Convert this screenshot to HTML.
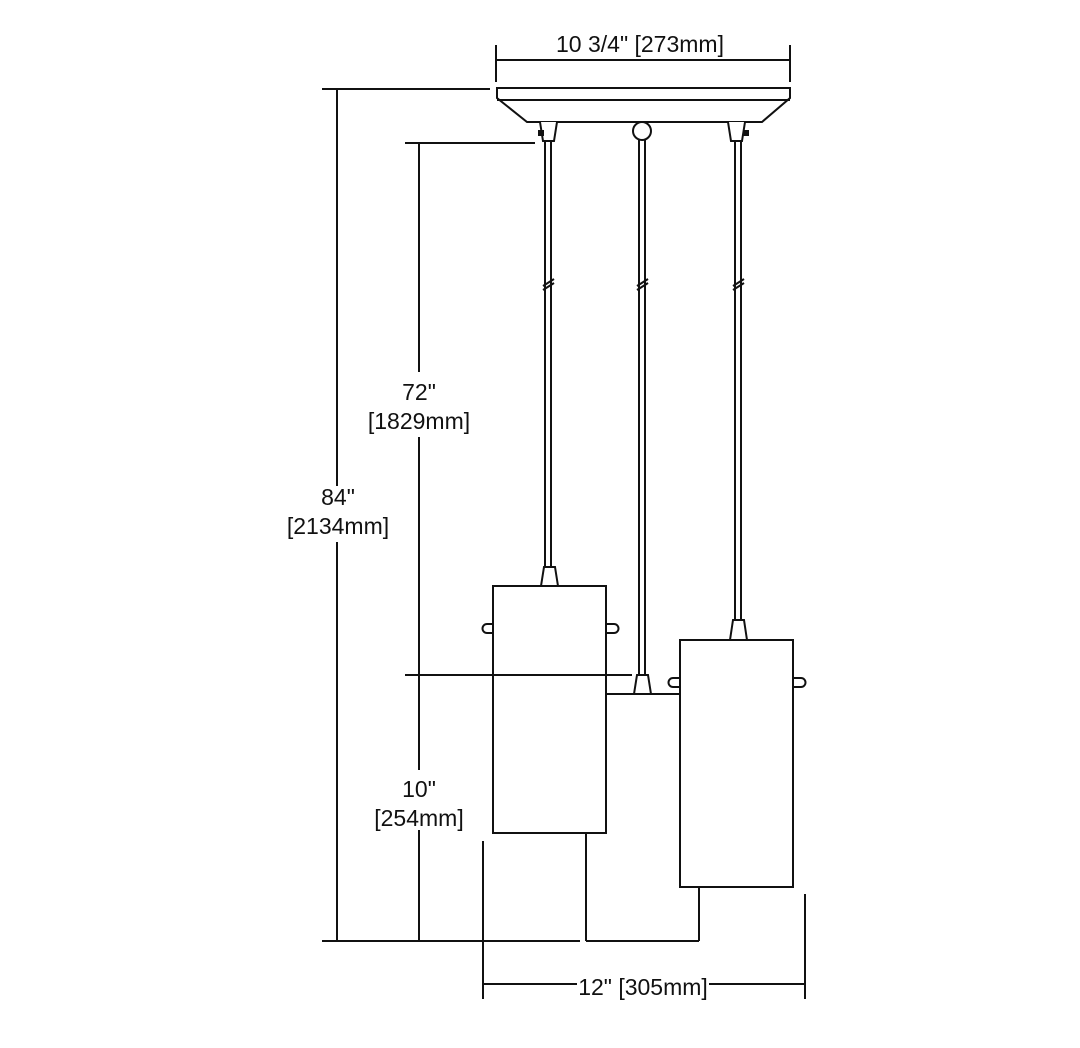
<!DOCTYPE html>
<html><head><style>
html,body{margin:0;padding:0;background:#fff;width:1080px;height:1048px;overflow:hidden}
svg{display:block}
text{font-family:"Liberation Sans",Arial,sans-serif;font-size:23px;fill:#111;text-anchor:middle}
</style></head><body>
<svg width="1080" height="1048" viewBox="0 0 1080 1048" xmlns="http://www.w3.org/2000/svg">
<g stroke="#111" stroke-width="2" fill="none">
<line x1="496" y1="45" x2="496" y2="82"/>
<line x1="790" y1="45" x2="790" y2="82"/>
<line x1="496" y1="60" x2="790" y2="60"/>
<path d="M497 88 H790 V98 L762 122 H527 L497 98 Z" fill="#fff"/>
<line x1="497" y1="100" x2="790" y2="100"/>
<path d="M540 122 L543 141 H554 L557 122" fill="#fff"/>
<rect x="538" y="130" width="6" height="6" fill="#111" stroke="none"/>
<path d="M728 122 L731 141 H742 L745 122" fill="#fff"/>
<rect x="743" y="130" width="6" height="6" fill="#111" stroke="none"/>
<circle cx="642" cy="131" r="9" fill="#fff"/>
<line x1="545" y1="141" x2="545" y2="568"/><line x1="551" y1="141" x2="551" y2="568"/>
<line x1="639" y1="140" x2="639" y2="675"/><line x1="645" y1="140" x2="645" y2="675"/>
<line x1="735" y1="141" x2="735" y2="620"/><line x1="741" y1="141" x2="741" y2="620"/>
<line x1="543" y1="286" x2="554" y2="279"/><line x1="543" y1="290" x2="554" y2="283"/>
<line x1="637" y1="286" x2="648" y2="279"/><line x1="637" y1="290" x2="648" y2="283"/>
<line x1="733" y1="286" x2="744" y2="279"/><line x1="733" y1="290" x2="744" y2="283"/>
<path d="M544 567 L541 586 H558 L555 567 Z" fill="#fff"/>
<path d="M637 675 L634 694 H651 L648 675 Z" fill="#fff"/>
<path d="M733 620 L730 640 H747 L744 620 Z" fill="#fff"/>
<rect x="493" y="586" width="113" height="247" fill="#fff"/>
<path d="M493 624 H487 A4 4 0 0 0 487 633 H493"/>
<path d="M606 624 H614 A4 4 0 0 1 614 633 H606"/>
<rect x="680" y="640" width="113" height="247" fill="#fff"/>
<path d="M680 678 H673 A4 4 0 0 0 673 687 H680"/>
<path d="M793 678 H801 A4 4 0 0 1 801 687 H793"/>
<line x1="606" y1="694" x2="680" y2="694"/>
<line x1="322" y1="89" x2="490" y2="89"/>
<line x1="337" y1="89" x2="337" y2="486"/>
<line x1="337" y1="542" x2="337" y2="941"/>
<line x1="322" y1="941" x2="580" y2="941"/>
<line x1="405" y1="143" x2="535" y2="143"/>
<line x1="419" y1="143" x2="419" y2="372"/>
<line x1="419" y1="437" x2="419" y2="941"/>
<line x1="405" y1="675" x2="632" y2="675"/>
<line x1="586" y1="833" x2="586" y2="941"/>
<line x1="586" y1="941" x2="699" y2="941"/>
<line x1="699" y1="887" x2="699" y2="941"/>
<line x1="483" y1="841" x2="483" y2="999"/>
<line x1="805" y1="894" x2="805" y2="999"/>
<line x1="483" y1="984" x2="577" y2="984"/>
<line x1="709" y1="984" x2="805" y2="984"/>
</g>
<rect x="405" y="770" width="30" height="60" fill="#fff"/>
<text x="640" y="52">10 3/4" [273mm]</text>
<text x="419" y="400">72"</text>
<text x="419" y="429">[1829mm]</text>
<text x="338" y="505">84"</text>
<text x="338" y="534">[2134mm]</text>
<text x="419" y="797">10"</text>
<text x="419" y="826">[254mm]</text>
<text x="643" y="995">12" [305mm]</text>
</svg>
</body></html>
